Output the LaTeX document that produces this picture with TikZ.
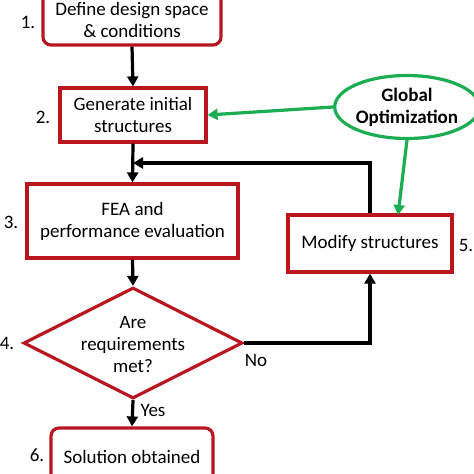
\documentclass[tikz,border=0pt]{standalone}
\usepackage{fontspec}
\setmainfont{Carlito}
\usetikzlibrary{shapes.geometric,arrows.meta,calc}
\definecolor{boxred}{RGB}{185,22,32}
\definecolor{optgreen}{RGB}{28,172,82}
\tikzset{
  stepbox/.style={draw=boxred, line width=3.2pt, fill=white, align=center, inner sep=0pt, font=\fontsize{19}{22}\selectfont},
  roundbox/.style={stepbox, rounded corners=8pt},
  numlabel/.style={font=\fontsize{19}{22}\selectfont, inner sep=0pt},
  flow/.style={line width=3.2pt, -{Triangle[length=10pt,width=11pt]}},
  gflow/.style={draw=optgreen, line width=3.2pt, -{Triangle[length=10pt,width=11pt]}},
}
\begin{document}
\begin{tikzpicture}[x=1pt,y=-1pt]
\clip (0,0) rectangle (474,474);
\fill[white] (0,0) rectangle (474,474);
% boxes
\node[roundbox, minimum width=178pt, minimum height=60pt] (b1) at (132,15) {};
\node[align=center, inner sep=0pt, font=\fontsize{19}{22}\selectfont] (b1text) at (132,20) {Define design space\\\& conditions};
\node[stepbox, minimum width=146pt, minimum height=54pt] (b2) at (133,115) {Generate initial\\structures};
\node[stepbox, minimum width=211pt, minimum height=74pt] (b3) at (132.5,221) {FEA and\\performance evaluation};
\node[draw=boxred, line width=3.2pt, diamond, minimum width=219pt, minimum height=111pt, inner sep=0pt] (d) at (133,343) {};
\node[align=center, inner sep=0pt, font=\fontsize{19}{22}\selectfont] (dtext) at (133,344) {Are\\requirements\\met?};
\node[stepbox, minimum width=164pt, minimum height=57pt] (mod) at (370,243.5) {Modify structures};
\node[roundbox, minimum width=162pt, minimum height=58pt] (b6) at (132,457) {Solution obtained};
\node[draw=optgreen, line width=3.2pt, ellipse, minimum width=130pt, minimum height=63pt, inner sep=0pt, align=center, font=\bfseries\fontsize{19}{22}\selectfont] (go) at (407,107) {Global\\Optimization};
% number labels
\node[numlabel] (n1) at (28,22) {1.};
\node[numlabel] (n2) at (43,117) {2.};
\node[numlabel] (n3) at (11,222) {3.};
\node[numlabel] (n4) at (7,343) {4.};
\node[numlabel] (n5) at (466,245) {5.};
\node[numlabel] (n6) at (37,455) {6.};
% connectors
\coordinate (join) at (133,163);
\coordinate (gtip) at (398,215);
\draw[flow] (b1.south) -- (b2.north);
\draw[flow] (b2.south) -- (b3.north);
\draw[flow] (mod.north) |- (join);
\draw[flow] (b3.south) -- (d.north);
\draw[flow] (d.east) -| (mod.south);
\draw[flow] (d.south) -- (b6.north);
\draw[gflow] (go.west) -- (b2.east);
\draw[gflow] (go.south) -- (gtip);
\node[numlabel] (no) at (256,360) {No};
\node[numlabel] (yes) at (153,410) {Yes};
\end{tikzpicture}
\end{document}
